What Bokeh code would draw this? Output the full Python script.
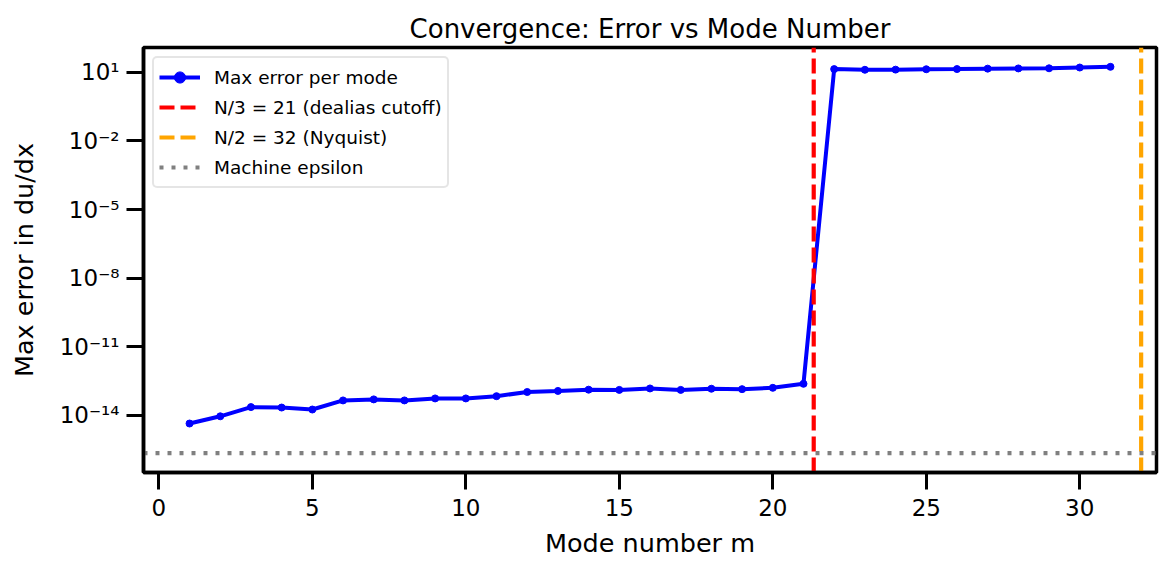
import math
from bokeh.plotting import figure
from bokeh.models import (Range1d, FixedTicker, CustomJSTickFormatter,
                          Legend, LegendItem)
from bokeh.embed import file_html
from bokeh.resources import INLINE

# ---------------- data ----------------
N = 64
modes = list(range(1, 32))
max_err = [4.4e-15, 9.1e-15, 2.3e-14, 2.2e-14, 1.8e-14, 4.5e-14, 5.0e-14,
           4.5e-14, 5.5e-14, 5.5e-14, 6.9e-14, 1.05e-13, 1.17e-13, 1.33e-13,
           1.30e-13, 1.50e-13, 1.30e-13, 1.46e-13, 1.40e-13, 1.60e-13, 2.4e-13,
           13.8, 12.9, 13.1, 13.6, 13.9, 14.5, 14.8, 15.0, 16.2, 17.4]
machine_eps = 2.220446049250313e-16
dealias_cut = N / 3
nyquist = N / 2
x_ticks = [0, 5, 10, 15, 20, 25, 30]
y_ticks = [1e1, 1e-2, 1e-5, 1e-8, 1e-11, 1e-14]
x_limits = (-0.5, 32.5)
legend_labels = ["Max error per mode",
                 "N/3 = %d (dealias cutoff)" % (N // 3),
                 "N/2 = %d (Nyquist)" % (N // 2),
                 "Machine epsilon"]
title_text = "Convergence: Error vs Mode Number"
x_label = "Mode number m"
y_label = "Max error in du/dx"

# log-scale y limits with 5% margin (like matplotlib autoscale)
lo = math.log10(min(min(max_err), machine_eps))
hi = math.log10(max(max_err))
pad = 0.05 * (hi - lo)
y_lo, y_hi = 10 ** (lo - pad), 10 ** (hi + pad)

FONT = "DejaVu Sans"
FRAME_W, FRAME_H = 1013, 425

p = figure(frame_width=FRAME_W, frame_height=FRAME_H,
           min_border_left=143, min_border_right=10,
           min_border_top=47, min_border_bottom=90,
           x_range=Range1d(*x_limits), y_range=Range1d(y_lo, y_hi),
           y_axis_type="log", output_backend="svg", toolbar_location=None,
           title=title_text, x_axis_label=x_label, y_axis_label=y_label)

p.title.text_font = FONT
p.title.text_font_size = "26px"
p.title.text_font_style = "normal"
p.title.text_color = "black"
p.title.align = "center"
p.title.standoff = 7

p.background_fill_color = "white"
p.border_fill_color = "white"
p.outline_line_color = "black"
p.outline_line_width = 3.5
p.outline_line_alpha = 1.0
p.xgrid.visible = False
p.ygrid.visible = False

p.xaxis.ticker = FixedTicker(ticks=x_ticks, minor_ticks=[])
p.yaxis.ticker = FixedTicker(ticks=y_ticks, minor_ticks=[])
p.yaxis.formatter = CustomJSTickFormatter(code="""
const e = Math.round(Math.log10(tick));
const sup = {'-':'\u207b','0':'\u2070','1':'\u00b9','2':'\u00b2','3':'\u00b3',
             '4':'\u2074','5':'\u2075','6':'\u2076','7':'\u2077','8':'\u2078','9':'\u2079'};
return '10' + String(e).split('').map(c => sup[c]).join('');
""")

for ax in (p.xaxis, p.yaxis):
    ax.axis_line_color = "black"
    ax.axis_line_width = 3.5
    ax.major_tick_line_color = "black"
    ax.major_tick_line_width = 3
    ax.major_tick_out = 17
    ax.major_tick_in = 0
    ax.minor_tick_line_color = None
    ax.major_label_text_font = FONT
    ax.major_label_text_font_size = "23px"
    ax.major_label_text_color = "black"
    ax.axis_label_text_font = FONT
    ax.axis_label_text_font_size = "25.5px"
    ax.axis_label_text_font_style = "normal"
    ax.axis_label_text_color = "black"
p.xaxis.major_label_standoff = 9
p.yaxis.major_label_standoff = 7
p.xaxis.axis_label_standoff = 9
p.yaxis.axis_label_standoff = 18

# ---------------- glyphs ----------------
r_line = p.line(modes, max_err, line_color="blue", line_width=4)
r_pts = p.scatter(modes, max_err, size=7, fill_color="blue", line_color="blue")
r_n3 = p.line([dealias_cut, dealias_cut], [y_lo, y_hi], line_color="red",
              line_width=4.2, line_dash="15 6")
r_n2 = p.line([nyquist, nyquist], [y_lo, y_hi], line_color="orange",
              line_width=4.2, line_dash="15 6")
r_eps = p.line([x_limits[0], x_limits[1]], [machine_eps, machine_eps],
               line_color="gray", line_width=4.2, line_dash="4 8")

legend = Legend(items=[
    LegendItem(label=legend_labels[0], renderers=[r_line, r_pts]),
    LegendItem(label=legend_labels[1], renderers=[r_n3]),
    LegendItem(label=legend_labels[2], renderers=[r_n2]),
    LegendItem(label=legend_labels[3], renderers=[r_eps]),
], location="top_left")
legend.margin = 9
legend.padding = 5
legend.spacing = 2
legend.glyph_width = 41
legend.glyph_height = 28
legend.label_height = 28
legend.label_standoff = 14
legend.label_text_font = FONT
legend.label_text_font_size = "18.5px"
legend.label_text_color = "black"
legend.border_line_color = "#cccccc"
legend.border_line_width = 2
legend.background_fill_color = "white"
legend.background_fill_alpha = 0.8
try:
    legend.border_radius = 5
except Exception:
    pass
p.add_layout(legend)

open("out.html", "w").write(file_html(p, INLINE))
